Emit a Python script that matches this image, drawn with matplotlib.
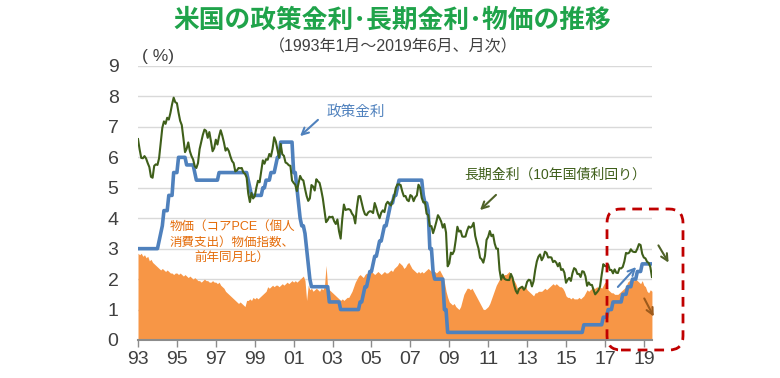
import matplotlib
matplotlib.use('Agg')
import matplotlib.pyplot as plt
import numpy as np
from matplotlib.patches import FancyBboxPatch, FancyArrowPatch
from matplotlib.transforms import IdentityTransform

plt.rcParams['font.family'] = ['Liberation Sans', 'Noto Sans CJK JP', 'DejaVu Sans']

# 月次データ 1993年1月～2019年6月
start_year = 1993
tick_years = [1993, 1995, 1997, 1999, 2001, 2003, 2005, 2007, 2009, 2011, 2013, 2015, 2017, 2019]
tick_labels = ['93', '95', '97', '99', '01', '03', '05', '07', '09', '11', '13', '15', '17', '19']

# 政策金利（FF金利誘導目標 上限）
policy_rate = [
    3, 3, 3, 3, 3, 3, 3, 3, 3, 3, 3, 3,  # 1993
    3, 3.25, 3.5, 3.75, 4.25, 4.25, 4.25, 4.75, 4.75, 4.75, 5.5, 5.5,
    5.5, 6, 6, 6, 6, 6, 5.75, 5.75, 5.75, 5.75, 5.75, 5.5,
    5.25, 5.25, 5.25, 5.25, 5.25, 5.25, 5.25, 5.25, 5.25, 5.25, 5.25, 5.25,
    5.25, 5.25, 5.5, 5.5, 5.5, 5.5, 5.5, 5.5, 5.5, 5.5, 5.5, 5.5,
    5.5, 5.5, 5.5, 5.5, 5.5, 5.5, 5.5, 5.5, 5.25, 5.0, 4.75, 4.75,  # 1998
    4.75, 4.75, 4.75, 4.75, 4.75, 5.0, 5.0, 5.25, 5.25, 5.25, 5.5, 5.5,
    5.5, 5.75, 6.0, 6.0, 6.5, 6.5, 6.5, 6.5, 6.5, 6.5, 6.5, 6.5,
    5.5, 5.5, 5.0, 4.5, 4.0, 3.75, 3.75, 3.5, 3.0, 2.5, 2.0, 1.75,
    1.75, 1.75, 1.75, 1.75, 1.75, 1.75, 1.75, 1.75, 1.75, 1.75, 1.25, 1.25,
    1.25, 1.25, 1.25, 1.25, 1.25, 1.0, 1.0, 1.0, 1.0, 1.0, 1.0, 1.0,  # 2003
    1.0, 1.0, 1.0, 1.0, 1.0, 1.25, 1.25, 1.5, 1.75, 1.75, 2.0, 2.25,
    2.25, 2.5, 2.75, 2.75, 3.0, 3.25, 3.25, 3.5, 3.75, 3.75, 4.0, 4.25,
    4.5, 4.5, 4.75, 4.75, 5.0, 5.25, 5.25, 5.25, 5.25, 5.25, 5.25, 5.25,
    5.25, 5.25, 5.25, 5.25, 5.25, 5.25, 5.25, 5.25, 4.75, 4.5, 4.5, 4.25,
    3.0, 3.0, 2.25, 2.0, 2.0, 2.0, 2.0, 2.0, 2.0, 1.0, 1.0, 0.25,  # 2008
    0.25, 0.25, 0.25, 0.25, 0.25, 0.25, 0.25, 0.25, 0.25, 0.25, 0.25, 0.25,
    0.25, 0.25, 0.25, 0.25, 0.25, 0.25, 0.25, 0.25, 0.25, 0.25, 0.25, 0.25,
    0.25, 0.25, 0.25, 0.25, 0.25, 0.25, 0.25, 0.25, 0.25, 0.25, 0.25, 0.25,
    0.25, 0.25, 0.25, 0.25, 0.25, 0.25, 0.25, 0.25, 0.25, 0.25, 0.25, 0.25,
    0.25, 0.25, 0.25, 0.25, 0.25, 0.25, 0.25, 0.25, 0.25, 0.25, 0.25, 0.25,  # 2013
    0.25, 0.25, 0.25, 0.25, 0.25, 0.25, 0.25, 0.25, 0.25, 0.25, 0.25, 0.25,
    0.25, 0.25, 0.25, 0.25, 0.25, 0.25, 0.25, 0.25, 0.25, 0.25, 0.25, 0.5,
    0.5, 0.5, 0.5, 0.5, 0.5, 0.5, 0.5, 0.5, 0.5, 0.5, 0.5, 0.75,
    0.75, 0.75, 1.0, 1.0, 1.0, 1.25, 1.25, 1.25, 1.25, 1.25, 1.25, 1.5,
    1.5, 1.5, 1.75, 1.75, 1.75, 2.0, 2.0, 2.0, 2.25, 2.25, 2.25, 2.5,  # 2018
    2.5, 2.5, 2.5, 2.5, 2.5, 2.5,
]

# 長期金利（10年国債利回り）
long_rate = [
    6.60, 6.26, 5.98, 5.97, 6.04, 5.96, 5.81, 5.68, 5.36, 5.33, 5.72, 5.77,  # 1993
    5.75, 5.97, 6.48, 6.97, 7.18, 7.10, 7.30, 7.24, 7.46, 7.74, 7.96, 7.81,
    7.78, 7.47, 7.20, 7.06, 6.63, 6.17, 6.28, 6.49, 6.20, 6.04, 5.93, 5.71,
    5.65, 5.81, 6.27, 6.51, 6.74, 6.91, 6.87, 6.64, 6.83, 6.53, 6.20, 6.30,
    6.58, 6.42, 6.69, 6.89, 6.71, 6.49, 6.22, 6.30, 6.21, 6.03, 5.88, 5.81,
    5.54, 5.57, 5.65, 5.64, 5.65, 5.50, 5.46, 5.34, 4.81, 4.53, 4.83, 4.65,  # 1998
    4.72, 5.00, 5.23, 5.18, 5.54, 5.90, 5.79, 5.94, 5.92, 6.11, 6.03, 6.28,
    6.66, 6.52, 6.26, 5.99, 6.44, 6.10, 6.05, 5.83, 5.80, 5.74, 5.72, 5.24,
    5.16, 5.10, 4.89, 5.14, 5.39, 5.28, 5.24, 4.97, 4.73, 4.57, 4.65, 5.09,
    5.04, 4.91, 5.28, 5.21, 5.16, 4.93, 4.65, 4.26, 3.87, 3.94, 4.05, 4.03,
    4.05, 3.90, 3.81, 3.96, 3.57, 3.33, 3.98, 4.45, 4.27, 4.29, 4.30, 4.27,  # 2003
    4.15, 4.08, 3.83, 4.35, 4.72, 4.73, 4.50, 4.28, 4.13, 4.10, 4.19, 4.23,
    4.22, 4.17, 4.50, 4.34, 4.14, 4.00, 4.18, 4.26, 4.20, 4.46, 4.54, 4.47,
    4.42, 4.57, 4.72, 4.99, 5.11, 5.11, 5.09, 4.88, 4.72, 4.73, 4.60, 4.56,
    4.76, 4.72, 4.56, 4.69, 4.75, 5.10, 5.00, 4.67, 4.52, 4.53, 4.15, 4.10,
    3.74, 3.74, 3.51, 3.68, 3.88, 4.10, 4.01, 3.89, 3.69, 3.81, 3.53, 2.42,  # 2008
    2.52, 2.87, 2.82, 2.93, 3.29, 3.72, 3.56, 3.59, 3.40, 3.39, 3.40, 3.59,
    3.73, 3.69, 3.73, 3.85, 3.42, 3.20, 3.01, 2.70, 2.65, 2.54, 2.76, 3.29,
    3.39, 3.58, 3.41, 3.46, 3.17, 3.00, 3.00, 2.30, 1.98, 2.15, 2.01, 1.98,
    1.97, 1.97, 2.17, 2.05, 1.80, 1.62, 1.53, 1.68, 1.72, 1.75, 1.65, 1.72,
    1.91, 1.98, 1.96, 1.76, 1.93, 2.30, 2.58, 2.74, 2.81, 2.62, 2.72, 2.90,  # 2013
    2.86, 2.71, 2.72, 2.71, 2.56, 2.60, 2.54, 2.42, 2.53, 2.30, 2.33, 2.21,
    1.88, 1.98, 2.04, 1.94, 2.20, 2.36, 2.32, 2.17, 2.17, 2.07, 2.26, 2.24,
    2.09, 1.78, 1.89, 1.81, 1.81, 1.64, 1.50, 1.56, 1.63, 1.76, 2.14, 2.49,
    2.43, 2.42, 2.48, 2.30, 2.30, 2.19, 2.32, 2.21, 2.20, 2.36, 2.35, 2.40,
    2.58, 2.86, 2.84, 2.87, 2.98, 2.91, 2.89, 2.89, 3.00, 3.15, 3.12, 2.83,  # 2018
    2.71, 2.68, 2.57, 2.53, 2.40, 2.07,
]

# 物価（コアPCE物価指数、前年同月比）
core_pce = [
    2.85, 2.80, 2.85, 2.75, 2.80, 2.70, 2.75, 2.60, 2.65, 2.55, 2.50, 2.45,  # 1993
    2.40, 2.35, 2.30, 2.35, 2.30, 2.25, 2.30, 2.25, 2.20, 2.20, 2.15, 2.20,
    2.20, 2.15, 2.20, 2.15, 2.10, 2.15, 2.10, 2.05, 2.10, 2.05, 2.00, 2.05,
    2.00, 1.95, 1.95, 1.90, 1.95, 2.00, 1.95, 1.95, 1.90, 1.90, 1.95, 1.90,
    1.90, 1.85, 1.90, 1.80, 1.75, 1.70, 1.60, 1.55, 1.50, 1.45, 1.40, 1.35,
    1.30, 1.25, 1.20, 1.25, 1.20, 1.15, 1.10, 1.30, 1.30, 1.35, 1.30, 1.40,  # 1998
    1.35, 1.40, 1.35, 1.40, 1.45, 1.50, 1.55, 1.60, 1.75, 1.70, 1.75, 1.80,
    1.75, 1.80, 1.80, 1.75, 1.80, 1.85, 1.80, 1.85, 1.90, 1.85, 1.90, 1.95,
    1.90, 1.95, 1.90, 1.95, 2.00, 2.05, 2.10, 1.95, 1.30, 1.80, 1.65, 1.70,
    1.60, 1.65, 1.70, 1.65, 1.60, 1.70, 1.65, 1.75, 2.45, 1.70, 1.65, 1.60,
    1.55, 1.50, 1.45, 1.40, 1.35, 1.30, 1.35, 1.30, 1.35, 1.40, 1.40, 1.50,  # 2003
    1.60, 1.75, 1.90, 2.00, 2.10, 2.15, 2.10, 2.05, 2.15, 2.20, 2.15, 2.20,
    2.25, 2.20, 2.15, 2.20, 2.25, 2.20, 2.15, 2.20, 2.25, 2.20, 2.20, 2.25,
    2.30, 2.25, 2.35, 2.40, 2.45, 2.55, 2.50, 2.45, 2.35, 2.40, 2.50, 2.55,
    2.45, 2.35, 2.30, 2.25, 2.20, 2.25, 2.20, 2.25, 2.20, 2.25, 2.30, 2.35,
    2.30, 2.25, 2.20, 2.25, 2.20, 2.25, 2.30, 2.20, 2.10, 1.90, 1.60, 1.40,  # 2008
    1.25, 1.20, 1.15, 1.20, 1.10, 1.05, 1.00, 1.10, 1.30, 1.50, 1.60, 1.70,
    1.70, 1.65, 1.70, 1.60, 1.50, 1.40, 1.30, 1.20, 1.10, 1.00, 1.00, 1.05,
    1.10, 1.20, 1.35, 1.50, 1.65, 1.80, 1.90, 2.00, 2.05, 2.10, 2.15, 2.15,
    2.20, 2.25, 2.10, 2.00, 1.95, 1.85, 1.70, 1.70, 1.75, 1.80, 1.70, 1.75,
    1.65, 1.60, 1.55, 1.50, 1.45, 1.55, 1.55, 1.60, 1.60, 1.60, 1.65, 1.70,  # 2013
    1.65, 1.70, 1.75, 1.80, 1.85, 1.80, 1.85, 1.80, 1.75, 1.75, 1.70, 1.60,
    1.45, 1.40, 1.40, 1.35, 1.40, 1.35, 1.35, 1.35, 1.40, 1.35, 1.40, 1.45,
    1.55, 1.65, 1.60, 1.65, 1.70, 1.70, 1.70, 1.75, 1.70, 1.75, 1.70, 1.80,
    1.90, 1.85, 1.65, 1.60, 1.55, 1.55, 1.50, 1.50, 1.50, 1.55, 1.60, 1.65,
    1.70, 1.75, 1.90, 1.95, 2.00, 1.95, 1.95, 2.00, 1.95, 1.90, 1.85, 1.95,  # 2018
    1.80, 1.75, 1.60, 1.55, 1.65, 1.60,
]

W, H = 780, 378
x = start_year + np.arange(len(policy_rate)) / 12.0

def fpos(px, py):
    # 画像のピクセル座標 -> figure fraction
    return (px / W, 1 - py / H)

fig = plt.figure(figsize=(W / 100, H / 100), dpi=100)
ax = fig.add_axes([138 / W, 38 / H, 514 / W, 274 / H])

ax.fill_between(x, 0, core_pce, color='#f79646', lw=0, zorder=2)
ax.plot(x, policy_rate, color='#4f81bd', lw=2.6, zorder=3, solid_joinstyle='round')
ax.plot(x, long_rate, color='#3f5f1a', lw=1.5, zorder=4)

ax.set_xlim(1993, 2019.42)
ax.set_ylim(0, 9)
ax.set_yticks(range(0, 10))
ax.set_xticks(tick_years)
ax.set_xticklabels(tick_labels)
ax.grid(axis='y', color='#d9d9d9', lw=1)
ax.set_axisbelow(True)
for s in ['top', 'right', 'left']:
    ax.spines[s].set_visible(False)
ax.spines['bottom'].set_color('#8c8c8c')
ax.spines['bottom'].set_linewidth(1.5)
ax.spines['bottom'].set_zorder(5)
ax.tick_params(axis='y', length=0, pad=14, labelsize=14, labelcolor='#404040')
ax.tick_params(axis='x', length=5, width=1, color='#8c8c8c', pad=3, labelsize=14, labelcolor='#404040')


def arrow(p0, p1, color):
    fig.add_artist(FancyArrowPatch(
        (p0[0], H - p0[1]), (p1[0], H - p1[1]), transform=IdentityTransform(),
        arrowstyle='->', mutation_scale=12, color=color, lw=1.5, zorder=11))


# タイトル
fig.text(*fpos(392, 20), '米国の政策金利･長期金利･物価の推移', ha='center', va='center',
         fontsize=18.5, fontweight='bold', color='#1fa34a')
fig.text(*fpos(393, 47), '（1993年1月～2019年6月、月次）', ha='center', va='center',
         fontsize=11.5, color='#404040')
fig.text(*fpos(158, 56), '( %)', ha='center', va='center', fontsize=12.5, color='#404040')

# 注記
fig.text(*fpos(356, 112), '政策金利', ha='center', va='center', fontsize=10.5, color='#4f81bd')
arrow((320, 118), (298, 138), '#4f81bd')
fig.text(*fpos(555, 175), '長期金利（10年国債利回り）', ha='center', va='center',
         fontsize=10, color='#3f5f1a')
arrow((498, 193), (478, 212), '#4f6228')
fig.text(*fpos(232, 243), '物価（コアPCE（個人\n消費支出）物価指数、\n前年同月比）', ha='center',
         va='center', fontsize=9, color='#e46c0a', linespacing=1.45)

# 直近の動き
box = FancyBboxPatch((607, H - 350), 76, 141, boxstyle='round,pad=0,rounding_size=14',
                     transform=IdentityTransform(), fill=False, edgecolor='#c00000',
                     lw=2, linestyle=(0, (3.5, 2.5)), zorder=10)
fig.add_artist(box)

arrow((657, 243), (670, 265), '#4f6228')
arrow((616, 289), (638, 265), '#4f81bd')
arrow((643, 296), (655, 319), '#9c5a1c')

fig.savefig('out.png', dpi=100)
